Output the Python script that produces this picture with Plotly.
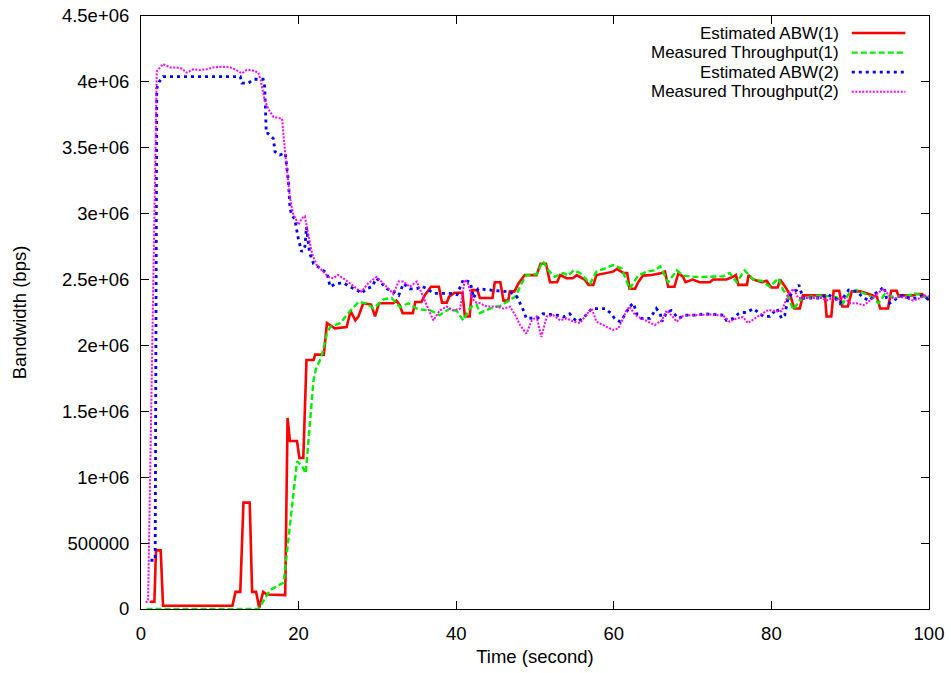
import plotly.graph_objects as go

# ---------------- data ----------------
red_time = [1.1, 1.7, 1.9, 2.5, 2.8, 11.6, 12.0, 12.6, 13.0, 13.8, 14.1, 14.6, 15.0, 15.5, 16.0,
            18.3, 18.6, 18.9, 19.8, 20.1, 20.6, 21.0, 21.9, 22.1, 23.2, 23.6, 24.6, 25.8, 26.1, 26.6,
            27.2, 27.6, 28.2, 29.2, 29.7, 30.2, 32.0, 32.4, 32.8, 33.2, 34.5, 34.8, 35.6, 36.0, 36.8,
            37.8, 38.2, 38.8, 39.1, 39.8, 40.8, 41.1, 41.7, 42.0, 42.7, 43.0, 44.6, 44.9, 45.6, 46.0,
            46.6, 46.8, 47.4, 47.9, 48.7, 50.2, 50.7, 51.4, 51.9, 52.8, 53.2, 54.0, 54.8, 55.3, 56.3,
            56.8, 57.4, 57.8, 59.1, 59.9, 60.4, 61.2, 61.7, 62.0, 62.7, 63.1, 63.7, 64.8, 66.1, 66.5,
            66.9, 67.7, 68.2, 68.8, 69.1, 70.0, 70.9, 72.2, 72.6, 74.3, 75.1, 75.5, 75.8, 76.9, 77.1,
            77.7, 78.8, 79.4, 80.0, 80.8, 81.1, 81.7, 82.4, 82.9, 83.6, 84.0, 86.8, 87.0, 87.6, 87.9,
            88.6, 89.0, 89.7, 90.2, 91.3, 92.5, 93.4, 93.8, 94.8, 95.2, 95.9, 96.1, 98.0, 98.4, 99.1,
            100.0]
red_bw = [55e3, 55e3, 445e3, 445e3, 25e3, 25e3, 130e3, 130e3, 807e3, 807e3, 130e3, 130e3, 10e3, 130e3, 110e3,
          105e3, 1.45e6, 1.275e6, 1.275e6, 1.146e6, 1.146e6, 1.89e6, 1.89e6, 1.93e6, 1.93e6, 2.17e6, 2.13e6, 2.14e6, 2.14e6, 2.26e6,
          2.19e6, 2.22e6, 2.32e6, 2.31e6, 2.22e6, 2.32e6, 2.32e6, 2.34e6, 2.31e6, 2.245e6, 2.245e6, 2.33e6, 2.33e6, 2.38e6, 2.445e6,
          2.445e6, 2.325e6, 2.325e6, 2.37e6, 2.40e6, 2.40e6, 2.22e6, 2.22e6, 2.42e6, 2.42e6, 2.36e6, 2.36e6, 2.48e6, 2.48e6, 2.34e6,
          2.34e6, 2.41e6, 2.41e6, 2.47e6, 2.534e6, 2.534e6, 2.62e6, 2.62e6, 2.48e6, 2.48e6, 2.534e6, 2.51e6, 2.51e6, 2.534e6, 2.50e6,
          2.46e6, 2.46e6, 2.534e6, 2.55e6, 2.56e6, 2.58e6, 2.55e6, 2.55e6, 2.43e6, 2.43e6, 2.48e6, 2.53e6, 2.534e6, 2.55e6, 2.56e6,
          2.445e6, 2.445e6, 2.55e6, 2.52e6, 2.48e6, 2.50e6, 2.48e6, 2.48e6, 2.50e6, 2.50e6, 2.52e6, 2.534e6, 2.46e6, 2.46e6, 2.534e6,
          2.50e6, 2.48e6, 2.49e6, 2.44e6, 2.44e6, 2.50e6, 2.45e6, 2.38e6, 2.28e6, 2.28e6, 2.38e6, 2.38e6, 2.22e6, 2.22e6, 2.415e6,
          2.415e6, 2.295e6, 2.295e6, 2.41e6, 2.41e6, 2.39e6, 2.37e6, 2.28e6, 2.28e6, 2.415e6, 2.415e6, 2.38e6, 2.38e6, 2.39e6, 2.39e6,
          2.345e6]

green_time = [0.7, 14.9, 16.4, 18.1, 19.8, 20.4, 20.9, 21.9, 22.2, 22.9, 23.6, 24.0, 25.3, 26.3, 27.6,
              28.6, 29.5, 30.8, 31.8, 32.9, 33.9, 35.0, 35.8, 36.6, 37.9, 39.2, 40.1, 40.9, 41.8, 42.6,
              43.0, 44.3, 45.6, 46.4, 47.5, 48.3, 48.9, 50.2, 51.0, 51.7, 52.5, 53.6, 54.2, 54.9, 55.7,
              57.0, 57.8, 58.9, 59.9, 61.0, 62.0, 63.1, 64.2, 65.2, 65.9, 66.9, 68.0, 68.8, 70.1, 71.4,
              72.6, 73.9, 74.7, 75.6, 76.6, 77.7, 78.8, 79.8, 80.9, 81.5, 82.1, 82.8, 83.6, 84.9, 86.2,
              87.4, 88.3, 89.1, 89.8, 90.8, 91.9, 92.7, 93.6, 94.4, 95.3, 96.3, 97.4, 98.2, 99.1, 100.0]
green_bw = [0, 0, 145e3, 200e3, 1.12e6, 1.09e6, 1.03e6, 1.74e6, 1.82e6, 1.915e6, 2.09e6, 2.14e6, 2.17e6, 2.245e6, 2.33e6,
            2.32e6, 2.28e6, 2.35e6, 2.36e6, 2.29e6, 2.32e6, 2.28e6, 2.27e6, 2.27e6, 2.23e6, 2.28e6, 2.26e6, 2.19e6, 2.29e6, 2.31e6,
            2.245e6, 2.28e6, 2.30e6, 2.33e6, 2.37e6, 2.47e6, 2.534e6, 2.54e6, 2.64e6, 2.57e6, 2.52e6, 2.55e6, 2.53e6, 2.57e6, 2.55e6,
            2.47e6, 2.56e6, 2.585e6, 2.61e6, 2.585e6, 2.43e6, 2.53e6, 2.56e6, 2.57e6, 2.60e6, 2.48e6, 2.57e6, 2.53e6, 2.52e6, 2.52e6,
            2.52e6, 2.525e6, 2.55e6, 2.48e6, 2.57e6, 2.50e6, 2.49e6, 2.445e6, 2.51e6, 2.42e6, 2.37e6, 2.27e6, 2.345e6, 2.37e6, 2.38e6,
            2.37e6, 2.365e6, 2.32e6, 2.39e6, 2.42e6, 2.39e6, 2.37e6, 2.32e6, 2.39e6, 2.37e6, 2.37e6, 2.38e6, 2.395e6, 2.38e6, 2.35e6]

blue_time = [1.2, 1.8, 2.0, 2.3, 2.8, 12.6, 12.8, 13.6, 14.3, 15.5, 15.7, 15.9, 16.1, 16.8, 17.0,
             17.6, 18.3, 18.7, 18.9, 19.1, 19.5, 20.0, 20.4, 20.8, 21.0, 21.4, 21.9, 22.7, 23.6, 24.0,
             24.8, 25.7, 26.5, 27.4, 28.0, 28.6, 29.3, 29.9, 30.5, 31.2, 32.0, 32.7, 33.3, 34.1, 35.0,
             35.6, 36.3, 37.1, 39.2, 40.1, 40.9, 41.8, 42.2, 42.8, 46.0, 46.8, 47.7, 48.5, 48.9, 49.8,
             50.4, 51.0, 51.9, 52.8, 53.6, 54.4, 55.3, 56.1, 56.6, 57.2, 58.9, 59.7, 60.1, 60.8, 61.4,
             62.0, 62.5, 62.9, 63.5, 64.6, 65.4, 65.9, 66.1, 66.7, 67.3, 68.2, 69.0, 70.7, 71.4, 73.9,
             74.3, 75.2, 75.8, 76.2, 76.9, 77.7, 79.0, 79.8, 80.7, 81.3, 81.7, 82.1, 82.6, 83.2, 83.5,
             84.0, 86.4, 87.0, 88.1, 88.7, 89.1, 89.8, 90.8, 91.7, 92.5, 93.1, 93.8, 94.3, 94.6, 95.0,
             95.9, 96.7, 97.6, 98.4, 99.3, 100.0]
blue_bw = [370e3, 370e3, 3.95e6, 4.0e6, 4.04e6, 4.04e6, 3.99e6, 3.99e6, 4.02e6, 4.02e6, 3.96e6, 3.61e6, 3.61e6, 3.57e6, 3.47e6,
           3.445e6, 3.46e6, 3.25e6, 3.05e6, 2.99e6, 2.96e6, 2.80e6, 2.71e6, 2.75e6, 2.90e6, 2.70e6, 2.62e6, 2.585e6, 2.55e6, 2.445e6,
           2.47e6, 2.475e6, 2.445e6, 2.42e6, 2.395e6, 2.43e6, 2.445e6, 2.51e6, 2.47e6, 2.43e6, 2.41e6, 2.38e6, 2.47e6, 2.43e6, 2.43e6,
           2.45e6, 2.43e6, 2.395e6, 2.395e6, 2.385e6, 2.50e6, 2.48e6, 2.36e6, 2.43e6, 2.41e6, 2.41e6, 2.37e6, 2.27e6, 2.205e6, 2.205e6,
           2.21e6, 2.24e6, 2.235e6, 2.23e6, 2.215e6, 2.24e6, 2.18e6, 2.205e6, 2.24e6, 2.28e6, 2.28e6, 2.24e6, 2.205e6, 2.18e6, 2.23e6,
           2.295e6, 2.32e6, 2.24e6, 2.205e6, 2.205e6, 2.28e6, 2.24e6, 2.18e6, 2.25e6, 2.265e6, 2.205e6, 2.23e6, 2.23e6, 2.24e6, 2.23e6,
           2.19e6, 2.205e6, 2.24e6, 2.25e6, 2.25e6, 2.28e6, 2.22e6, 2.22e6, 2.28e6, 2.205e6, 2.23e6, 2.36e6, 2.395e6, 2.42e6, 2.46e6,
           2.36e6, 2.36e6, 2.39e6, 2.36e6, 2.32e6, 2.36e6, 2.42e6, 2.41e6, 2.36e6, 2.34e6, 2.39e6, 2.42e6, 2.445e6, 2.36e6, 2.32e6,
           2.355e6, 2.38e6, 2.355e6, 2.36e6, 2.38e6, 2.345e6]

mag_time = [0.6, 0.9, 2.0, 2.8, 3.7, 4.5, 5.2, 5.8, 6.6, 7.5, 8.3, 9.2, 10.2, 11.3, 12.1,
            12.8, 13.4, 14.0, 14.9, 15.2, 15.7, 16.2, 16.8, 17.9, 18.3, 18.6, 18.9, 19.3, 20.0, 20.4,
            20.8, 21.2, 21.7, 22.3, 23.1, 23.8, 24.4, 25.0, 25.9, 26.7, 27.6, 28.0, 28.8, 29.9, 30.8,
            31.6, 32.0, 32.7, 33.3, 34.1, 35.0, 35.6, 36.3, 37.1, 37.9, 38.8, 39.6, 40.5, 41.1, 41.5,
            42.0, 42.4, 43.0, 43.9, 45.1, 46.0, 46.8, 47.5, 48.1, 48.9, 49.6, 50.2, 50.8, 51.5, 52.3,
            53.2, 54.0, 54.9, 55.7, 56.6, 57.2, 57.8, 58.7, 59.9, 60.6, 61.0, 61.6, 62.0, 62.7, 63.5,
            64.4, 65.2, 66.1, 66.7, 67.3, 68.0, 68.6, 69.5, 70.5, 71.4, 72.2, 73.1, 73.9, 74.7, 75.6,
            76.4, 77.0, 77.9, 78.8, 79.6, 80.5, 81.3, 81.7, 82.1, 82.8, 83.4, 84.3, 86.4, 87.0, 87.7,
            88.5, 89.1, 90.0, 90.8, 91.7, 92.5, 93.4, 94.2, 94.8, 95.5, 96.3, 97.2, 98.0, 98.9, 99.7,
            100.0]
mag_bw = [50e3, 60e3, 4.08e6, 4.135e6, 4.11e6, 4.11e6, 4.10e6, 4.07e6, 4.095e6, 4.09e6, 4.095e6, 4.11e6, 4.115e6, 4.11e6, 4.09e6,
          4.065e6, 4.09e6, 4.09e6, 4.07e6, 4.01e6, 3.86e6, 3.79e6, 3.735e6, 3.72e6, 3.46e6, 3.30e6, 3.12e6, 3.0e6, 2.915e6, 2.965e6,
          2.98e6, 2.85e6, 2.70e6, 2.61e6, 2.56e6, 2.52e6, 2.51e6, 2.535e6, 2.50e6, 2.46e6, 2.42e6, 2.41e6, 2.47e6, 2.52e6, 2.47e6,
          2.42e6, 2.39e6, 2.485e6, 2.485e6, 2.445e6, 2.485e6, 2.395e6, 2.30e6, 2.19e6, 2.265e6, 2.295e6, 2.265e6, 2.28e6, 2.50e6, 2.47e6,
          2.36e6, 2.33e6, 2.32e6, 2.295e6, 2.295e6, 2.28e6, 2.295e6, 2.23e6, 2.155e6, 2.09e6, 2.19e6, 2.22e6, 2.065e6, 2.22e6, 2.23e6,
          2.19e6, 2.205e6, 2.18e6, 2.17e6, 2.24e6, 2.28e6, 2.18e6, 2.155e6, 2.117e6, 2.13e6, 2.19e6, 2.265e6, 2.295e6, 2.23e6, 2.205e6,
          2.18e6, 2.155e6, 2.19e6, 2.265e6, 2.23e6, 2.18e6, 2.22e6, 2.23e6, 2.23e6, 2.235e6, 2.235e6, 2.23e6, 2.225e6, 2.18e6, 2.205e6,
          2.215e6, 2.17e6, 2.205e6, 2.24e6, 2.27e6, 2.26e6, 2.26e6, 2.32e6, 2.38e6, 2.43e6, 2.36e6, 2.36e6, 2.36e6, 2.34e6, 2.36e6,
          2.34e6, 2.37e6, 2.32e6, 2.32e6, 2.305e6, 2.34e6, 2.39e6, 2.43e6, 2.39e6, 2.355e6, 2.37e6, 2.36e6, 2.34e6, 2.36e6, 2.38e6,
          2.37e6]

assert len(red_time) == len(red_bw), (len(red_time), len(red_bw))
assert len(green_time) == len(green_bw), (len(green_time), len(green_bw))
assert len(blue_time) == len(blue_bw), (len(blue_time), len(blue_bw))
assert len(mag_time) == len(mag_bw), (len(mag_time), len(mag_bw))

series_names = ["Estimated ABW(1)", "Measured Throughput(1)", "Estimated ABW(2)", "Measured Throughput(2)"]
y_tickvals = [0, 5e5, 1e6, 1.5e6, 2e6, 2.5e6, 3e6, 3.5e6, 4e6, 4.5e6]
y_ticktext = ["0", "500000", "1e+06", "1.5e+06", "2e+06", "2.5e+06", "3e+06", "3.5e+06", "4e+06", "4.5e+06"]
x_tickvals = [0, 20, 40, 60, 80, 100]

# ---------------- styles ----------------
FONT = "Liberation Sans, Arial, Helvetica, sans-serif"
FS = 18.5
LEG_FS = 17
styles = [
    dict(color="#ff0000", width=2.6, dash="solid"),
    dict(color="#00ee00", width=2.4, dash="6px,3px"),
    dict(color="#0000ff", width=2.8, dash="3px,4px"),
    dict(color="#ff00ff", width=2.0, dash="2px,1.5px"),
]
data = [(red_time, red_bw), (green_time, green_bw), (blue_time, blue_bw), (mag_time, mag_bw)]

fig = go.Figure()
for (xs, ys), name, st in zip(data, series_names, styles):
    fig.add_trace(go.Scatter(x=xs, y=ys, mode="lines", name=name, line=st, showlegend=False))

# custom gnuplot-style legend (text right-aligned, line sample after it)
leg_rows_y = [0.9713, 0.9383, 0.9052, 0.8722]
for name, st, yy in zip(series_names, styles, leg_rows_y):
    fig.add_annotation(x=0.887, y=yy, xref="paper", yref="paper", text=name, showarrow=False,
                       xanchor="right", yanchor="middle", borderpad=0,
                       font=dict(family=FONT, size=LEG_FS, color="black"))
    fig.add_shape(type="line", xref="paper", yref="paper", x0=0.902, x1=0.970, y0=yy, y1=yy,
                  line=st)

axis_common = dict(showline=True, linecolor="black", linewidth=1, mirror="ticks", ticks="inside",
                   ticklen=8, tickcolor="black", tickwidth=1, showgrid=False, zeroline=False,
                   automargin=False, tickfont=dict(family=FONT, size=FS, color="black"))

fig.update_layout(
    width=951, height=673,
    margin=dict(l=141, r=22, t=16, b=64),
    paper_bgcolor="white", plot_bgcolor="white",
    font=dict(family=FONT, size=FS, color="black"),
    xaxis=dict(range=[0, 100], tickvals=x_tickvals, ticktext=[str(v) for v in x_tickvals],
               ticklabelstandoff=8,
               title=dict(text="Time (second)", font=dict(family=FONT, size=FS), standoff=6),
               **axis_common),
    yaxis=dict(range=[0, 4.5e6], tickvals=y_tickvals, ticktext=y_ticktext,
               ticklabelstandoff=7,
               title=dict(text="Bandwidth (bps)", font=dict(family=FONT, size=FS), standoff=30),
               **axis_common),
)

fig.write_html("out.html")
